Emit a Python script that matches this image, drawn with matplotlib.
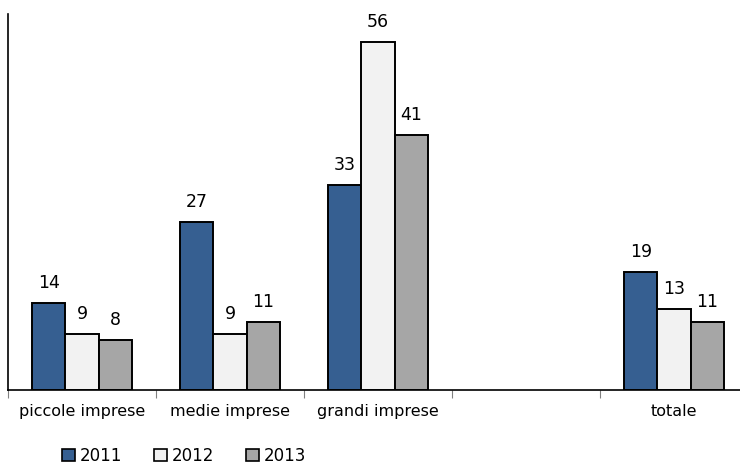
import matplotlib.pyplot as plt
from matplotlib.patches import Patch
import numpy as np

plt.rcParams['font.family'] = 'DejaVu Sans'

# data: share by firm size class, empty slot before the total
categories = ['piccole imprese', 'medie imprese', 'grandi imprese', '', 'totale']
years = ['2011', '2012', '2013']
v2011 = [14, 27, 33, np.nan, 19]
v2012 = [9, 9, 56, np.nan, 13]
v2013 = [8, 11, 41, np.nan, 11]

colors = ['#365F91', '#F2F2F2', '#A6A6A6']
series = [v2011, v2012, v2013]

W, H = 740, 466
fig = plt.figure(figsize=(W / 100, H / 100), dpi=100)
ax = fig.add_axes([8 / W, (H - 390) / H, 740 / W, (390 - 14) / H])

x = np.arange(len(categories))
bw = 0.223
for i, (vals, col) in enumerate(zip(series, colors)):
    pos = x + (i - 1) * bw
    ax.bar(pos, vals, width=bw, color=col, edgecolor='black', linewidth=1.4, zorder=2)
    for xp, v in zip(pos, vals):
        if np.isnan(v):
            continue
        ax.annotate('%d' % v, (xp, v), xytext=(0, 8), textcoords='offset points',
                    ha='center', va='bottom', fontsize=12.5)

ax.set_xlim(-0.5, len(categories) - 0.5)
ax.set_ylim(0, 60.5)

# separators between categories, labels centred in each slot
ax.set_xticks(np.arange(len(categories)) - 0.5)
ax.set_xticklabels([])
ax.tick_params(axis='x', which='major', direction='out', length=6, width=0.8, color='#808080')
ax.set_xticks(x, minor=True)
ax.set_xticklabels(categories, minor=True, fontsize=11.5)
ax.tick_params(axis='x', which='minor', length=0, pad=10)
ax.set_yticks([])

for s in ['top', 'right']:
    ax.spines[s].set_visible(False)
ax.spines['left'].set_linewidth(1.2)
ax.spines['bottom'].set_linewidth(1.2)

handles = [Patch(facecolor=c, edgecolor='black', linewidth=1.2) for c in colors]
fig.legend(handles, years, loc='center left', bbox_to_anchor=(62 / W, 1 - 456 / H),
           ncol=3, frameon=False, fontsize=12, handlelength=0.78, handleheight=0.78,
           handletextpad=0.3, columnspacing=1.9, borderaxespad=0, borderpad=0)

fig.savefig('out.png', dpi=100)
